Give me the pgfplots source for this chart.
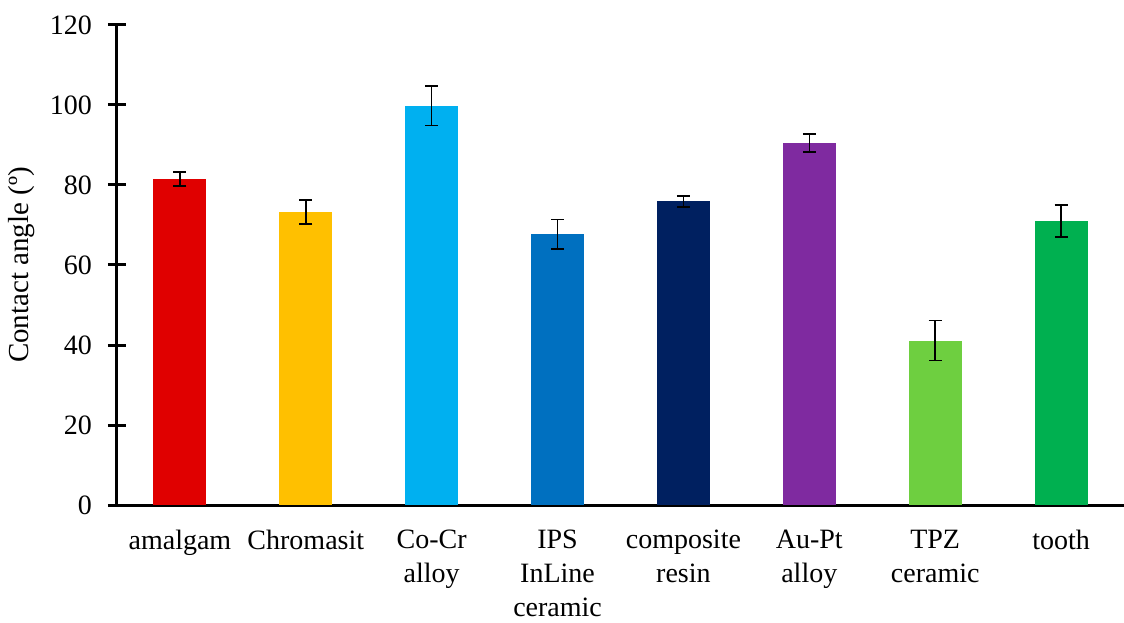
\documentclass[border=0pt]{standalone}
\usepackage{fontspec}
\setmainfont{Liberation Serif}
\usepackage{pgfplots}
\pgfplotsset{compat=1.18}
\definecolor{c1}{HTML}{E00000}
\definecolor{c2}{HTML}{FFC000}
\definecolor{c3}{HTML}{00B0F0}
\definecolor{c4}{HTML}{0070C0}
\definecolor{c5}{HTML}{002060}
\definecolor{c6}{HTML}{7F2AA0}
\definecolor{c7}{HTML}{6ECF40}
\definecolor{c8}{HTML}{00B050}
\pgfplotsset{eb/.style={
  /pgfplots/error bars/y dir=both,
  /pgfplots/error bars/y explicit,
  /pgfplots/error bars/error bar style={line width=0.75pt, black},
  /pgfplots/error bars/error mark options={rotate=90, mark size=3.25pt, line width=0.75pt, black}}}
\begin{document}
\begin{tikzpicture}
\useasboundingbox (0,0) rectangle (562pt,311pt);
\begin{axis}[
  at={(58.5pt,58.5pt)}, anchor=south west,
  scale only axis, width=503.5pt, height=240pt,
  xmin=-0.5, xmax=7.5, ymin=0, ymax=120,
  axis x line=bottom, axis y line=left,
  axis line style={-, line width=1.5pt, black},
  xtick={0,...,7},
  xticklabels={amalgam, Chromasit, Co-Cr\\alloy, IPS\\InLine\\ceramic, composite\\resin, Au-Pt\\alloy, TPZ\\ceramic, tooth},
  xtick style={draw=none},
  ytick={0,20,...,120},
  ytick style={line width=1.5pt, black},
  tick align=center, major tick length=9pt,
  /pgf/number format/assume math mode=true,
  every tick label/.append style={font=\fontsize{14}{17}\selectfont},
  xticklabel style={align=center, yshift=0pt},
  yticklabel style={xshift=-4.5pt},
  ylabel={Contact angle (º)},
  ylabel style={font=\fontsize{14.5}{17}\selectfont, at={(axis description cs:0,0.5)}, yshift=47.5pt, anchor=center},
  ybar, bar width=26.5pt, bar shift=0pt,
  clip=false,
]
\addplot[fill=c1, draw=none, eb] coordinates {(0,81.5) +- (0,1.8)};
\addplot[fill=c2, draw=none, eb] coordinates {(1,73.2) +- (0,3.0)};
\addplot[fill=c3, draw=none, eb] coordinates {(2,99.8) +- (0,4.9)};
\addplot[fill=c4, draw=none, eb] coordinates {(3,67.7) +- (0,3.7)};
\addplot[fill=c5, draw=none, eb] coordinates {(4,75.9) +- (0,1.4)};
\addplot[fill=c6, draw=none, eb] coordinates {(5,90.5) +- (0,2.3)};
\addplot[fill=c7, draw=none, eb] coordinates {(6,41.1) +- (0,5.0)};
\addplot[fill=c8, draw=none, eb] coordinates {(7,71.0) +- (0,4.0)};
\end{axis}
\end{tikzpicture}
\end{document}
